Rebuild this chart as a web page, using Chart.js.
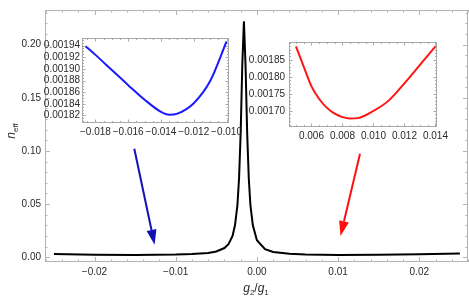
<!DOCTYPE html>
<html>
<head>
<meta charset="utf-8">
<script src="https://cdn.jsdelivr.net/npm/chart.js@4.4.1/dist/chart.umd.min.js"></script>
<style>
    html, body { margin: 0; padding: 0; background: #fff; }
    #wrap { position: relative; width: 469px; height: 298px; overflow: hidden; }
    #wrap canvas { position: absolute; }
</style>
</head>
<body>
<div id="wrap">
    <canvas id="mainChart" width="469" height="298" style="left:0;top:0;width:469px;height:298px"></canvas>
    <canvas id="leftInset" width="212" height="112" style="left:38px;top:30px;width:212px;height:112px"></canvas>
    <canvas id="rightInset" width="224" height="112" style="left:245px;top:32px;width:224px;height:112px"></canvas>
</div>
<script>
// main curve n_eff vs g2/g1
const mainX = [-0.025, -0.02, -0.015, -0.01, -0.008, -0.006, -0.005, -0.004, -0.0035, -0.003, -0.0027, -0.0024, -0.0022, -0.002, -0.0018,
               -0.0016, -0.0014, -0.0012, -0.001, -0.0008, -0.0005, 0, 0.001, 0.002, 0.004, 0.006, 0.01, 0.015, 0.02, 0.025];
const mainY = [0.0030, 0.0023, 0.0020, 0.0024, 0.0029, 0.0040, 0.0053, 0.0086, 0.0122, 0.020, 0.030, 0.049, 0.074, 0.117, 0.181,
               0.222, 0.181, 0.117, 0.074, 0.049, 0.030, 0.016, 0.0076, 0.0049, 0.0032, 0.0024, 0.0021, 0.0023, 0.0028, 0.0035];
const mainXTicks = [-0.02, -0.01, 0, 0.01, 0.02];
const mainXLabels = ['\u22120.02', '\u22120.01', '0.00', '0.01', '0.02'];
const mainYTicks = [0, 0.05, 0.1, 0.15, 0.2];
const mainYLabels = ['0.00', '0.05', '0.10', '0.15', '0.20'];

// left inset (blue)
const blueX = [-0.0186, -0.018, -0.017, -0.016, -0.015, -0.014, -0.0135, -0.013, -0.012, -0.011, -0.010];
const blueY = [0.001939, 0.001924, 0.001898, 0.001872, 0.001847, 0.001826, 0.001821, 0.001823, 0.001841, 0.001879, 0.001947];
const blueXTicks = [-0.018, -0.016, -0.014, -0.012, -0.010];
const blueXLabels = ['\u22120.018', '\u22120.016', '\u22120.014', '\u22120.012', '\u22120.010'];
const blueYTicks = [0.00182, 0.00184, 0.00186, 0.00188, 0.0019, 0.00192, 0.00194];
const blueYLabels = ['0.00182', '0.00184', '0.00186', '0.00188', '0.00190', '0.00192', '0.00194'];

// right inset (red)
const redX = [0.005, 0.0055, 0.006, 0.0065, 0.007, 0.0075, 0.008, 0.0085, 0.009, 0.010, 0.011, 0.012, 0.013, 0.014];
const redY = [0.001889, 0.001830, 0.001772, 0.001735, 0.001709, 0.001692, 0.001682, 0.001678, 0.001679, 0.001700, 0.001731, 0.001781, 0.001835, 0.001889];
const redXTicks = [0.006, 0.008, 0.010, 0.012, 0.014];
const redXLabels = ['0.006', '0.008', '0.010', '0.012', '0.014'];
const redYTicks = [0.0017, 0.00175, 0.0018, 0.00185];
const redYLabels = ['0.00170', '0.00175', '0.00180', '0.00185'];

const FONT = 'Liberation Sans, Arial, sans-serif';
const TEXT = '#2a2a2a';

function steps(from, to, step) {
    const out = [];
    for (let v = from; v <= to + step / 2; v += step) out.push(+v.toFixed(9));
    return out;
}

// Mathematica style frame with inward ticks on all four sides
const framePlugin = {
    id: 'frame',
    beforeDatasetsDraw(chart, args, opts) {
        const { ctx, chartArea: a, scales: { x, y } } = chart;
        ctx.save();
        ctx.strokeStyle = opts.color;
        ctx.lineWidth = 1;
        ctx.strokeRect(a.left + 0.5, a.top + 0.5, a.right - a.left - 1, a.bottom - a.top - 1);
        ctx.beginPath();
        const xt = (vals, len) => vals.forEach(v => {
            if (v < x.min || v > x.max) return;
            const p = Math.round(x.getPixelForValue(v)) + 0.5;
            ctx.moveTo(p, a.bottom); ctx.lineTo(p, a.bottom - len);
            ctx.moveTo(p, a.top); ctx.lineTo(p, a.top + len);
        });
        const yt = (vals, len) => vals.forEach(v => {
            if (v < y.min || v > y.max) return;
            const p = Math.round(y.getPixelForValue(v)) + 0.5;
            ctx.moveTo(a.left, p); ctx.lineTo(a.left + len, p);
            ctx.moveTo(a.right, p); ctx.lineTo(a.right - len, p);
        });
        xt(opts.xMajor, opts.majorLen); xt(opts.xMinor, opts.minorLen);
        yt(opts.yMajor, opts.majorLen); yt(opts.yMinor, opts.minorLen);
        ctx.stroke();
        ctx.restore();
    }
};

// arrows pointing from the insets down to the curve, in data coordinates
const arrows = [
    { from: [-0.0151, 0.102], to: [-0.0126, 0.0118], color: '#1212b4' },
    { from: [0.0127, 0.0973], to: [0.0103, 0.020], color: '#ff1010' }
];
const arrowPlugin = {
    id: 'arrows',
    afterDatasetsDraw(chart) {
        const { ctx, scales: { x, y } } = chart;
        arrows.forEach(ar => {
            const x0 = x.getPixelForValue(ar.from[0]), y0 = y.getPixelForValue(ar.from[1]);
            const x1 = x.getPixelForValue(ar.to[0]), y1 = y.getPixelForValue(ar.to[1]);
            const ang = Math.atan2(y1 - y0, x1 - x0);
            const hl = 15, hw = 5;
            const bx = x1 - hl * Math.cos(ang), by = y1 - hl * Math.sin(ang);
            ctx.save();
            ctx.strokeStyle = ar.color;
            ctx.fillStyle = ar.color;
            ctx.lineWidth = 2;
            ctx.beginPath();
            ctx.moveTo(x0, y0); ctx.lineTo(bx, by);
            ctx.stroke();
            ctx.beginPath();
            ctx.moveTo(x1, y1);
            ctx.lineTo(bx + hw * Math.sin(ang), by - hw * Math.cos(ang));
            ctx.lineTo(bx - hw * Math.sin(ang), by + hw * Math.cos(ang));
            ctx.closePath();
            ctx.fill();
            ctx.restore();
        });
    }
};

// axis titles with italic letters and subscripts
function drawSubText(ctx, parts, cx, baseY) {
    let w = 0;
    parts.forEach(p => { ctx.font = p.font; w += ctx.measureText(p.t).width; });
    let px = cx - w / 2;
    parts.forEach(p => {
        ctx.font = p.font;
        ctx.fillText(p.t, px, baseY + (p.dy || 0));
        px += ctx.measureText(p.t).width;
    });
}
const titlePlugin = {
    id: 'titles',
    afterDraw(chart) {
        const ctx = chart.ctx;
        ctx.save();
        ctx.fillStyle = TEXT;
        ctx.textBaseline = 'alphabetic';
        ctx.textAlign = 'left';
        const it = 'italic 12px ' + FONT, sub = '8px ' + FONT, up = '12px ' + FONT;
        drawSubText(ctx, [
            { t: 'g', font: it }, { t: '2', font: sub, dy: 3 },
            { t: '/', font: up },
            { t: 'g', font: it }, { t: '1', font: sub, dy: 3 }
        ], 256, 292);
        ctx.translate(15, 131);
        ctx.rotate(-Math.PI / 2);
        drawSubText(ctx, [{ t: 'n', font: it }, { t: 'eff', font: sub, dy: 3 }], 0, 0);
        ctx.restore();
    }
};

function axis(min, max, ticks, labels, size, pad, fit) {
    return {
        type: 'linear', min: min, max: max,
        grid: { display: false, drawTicks: false },
        border: { display: false },
        afterBuildTicks: s => { s.ticks = ticks.map(v => ({ value: v })); },
        afterFit: fit,
        ticks: {
            autoSkip: false, maxRotation: 0, padding: pad, color: TEXT,
            font: { family: FONT, size: size },
            callback: (v, i) => labels[i]
        }
    };
}

function lineSet(xs, ys, color) {
    return {
        data: xs.map((v, i) => ({ x: v, y: ys[i] })),
        showLine: true, borderColor: color, borderWidth: 2,
        pointRadius: 0, cubicInterpolationMode: 'monotone', fill: false
    };
}

// Main chart
new Chart(document.getElementById('mainChart'), {
    type: 'scatter',
    data: { datasets: [Object.assign(lineSet(mainX, mainY, '#000'), { cubicInterpolationMode: 'default', tension: 0 })] },
    options: {
        responsive: false, animation: false, events: [],
        layout: { padding: { top: 1, right: 1, left: 0, bottom: 0 } },
        plugins: {
            legend: { display: false }, tooltip: { enabled: false },
            frame: {
                color: '#b4b4b4', majorLen: 5, minorLen: 2.5,
                xMajor: mainXTicks, xMinor: steps(-0.026, 0.026, 0.002),
                yMajor: mainYTicks, yMinor: steps(0, 0.23, 0.01)
            }
        },
        scales: {
            x: axis(-0.0261, 0.026, mainXTicks, mainXLabels, 10, 4, s => { s.height = 36; }),
            y: axis(-0.00455, 0.2327, mainYTicks, mainYLabels, 10, 4, s => { s.width = 45; })
        }
    },
    plugins: [framePlugin, arrowPlugin, titlePlugin]
});

// Left inset
new Chart(document.getElementById('leftInset'), {
    type: 'scatter',
    data: { datasets: [lineSet(blueX, blueY, '#1a1aff')] },
    options: {
        responsive: false, animation: false, events: [],
        layout: { padding: { top: 3, right: 21, left: 0, bottom: 0 } },
        plugins: {
            legend: { display: false }, tooltip: { enabled: false },
            frame: {
                color: '#a8a8a8', majorLen: 3.5, minorLen: 2,
                xMajor: blueXTicks, xMinor: steps(-0.019, -0.0095, 0.0005),
                yMajor: blueYTicks, yMinor: steps(0.0018, 0.00196, 0.000005)
            }
        },
        scales: {
            x: axis(-0.01882, -0.00985, blueXTicks, blueXLabels, 10, 3, s => { s.height = 19; }),
            y: axis(0.001807, 0.001953, blueYTicks, blueYLabels, 10, 2, s => { s.width = 44; })
        }
    },
    plugins: [framePlugin]
});

// Right inset
new Chart(document.getElementById('rightInset'), {
    type: 'scatter',
    data: { datasets: [lineSet(redX, redY, '#ff1414')] },
    options: {
        responsive: false, animation: false, events: [],
        layout: { padding: { top: 3, right: 32, left: 0, bottom: 0 } },
        plugins: {
            legend: { display: false }, tooltip: { enabled: false },
            frame: {
                color: '#a8a8a8', majorLen: 3.5, minorLen: 2,
                xMajor: redXTicks, xMinor: steps(0.0045, 0.0145, 0.0005),
                yMajor: redYTicks, yMinor: steps(0.00165, 0.0019, 0.00001)
            }
        },
        scales: {
            x: axis(0.00455, 0.0141, redXTicks, redXLabels, 10, 3, s => { s.height = 17; }),
            y: axis(0.001653, 0.001902, redYTicks, redYLabels, 10, 4, s => { s.width = 44; })
        }
    },
    plugins: [framePlugin]
});
</script>
</body>
</html>
